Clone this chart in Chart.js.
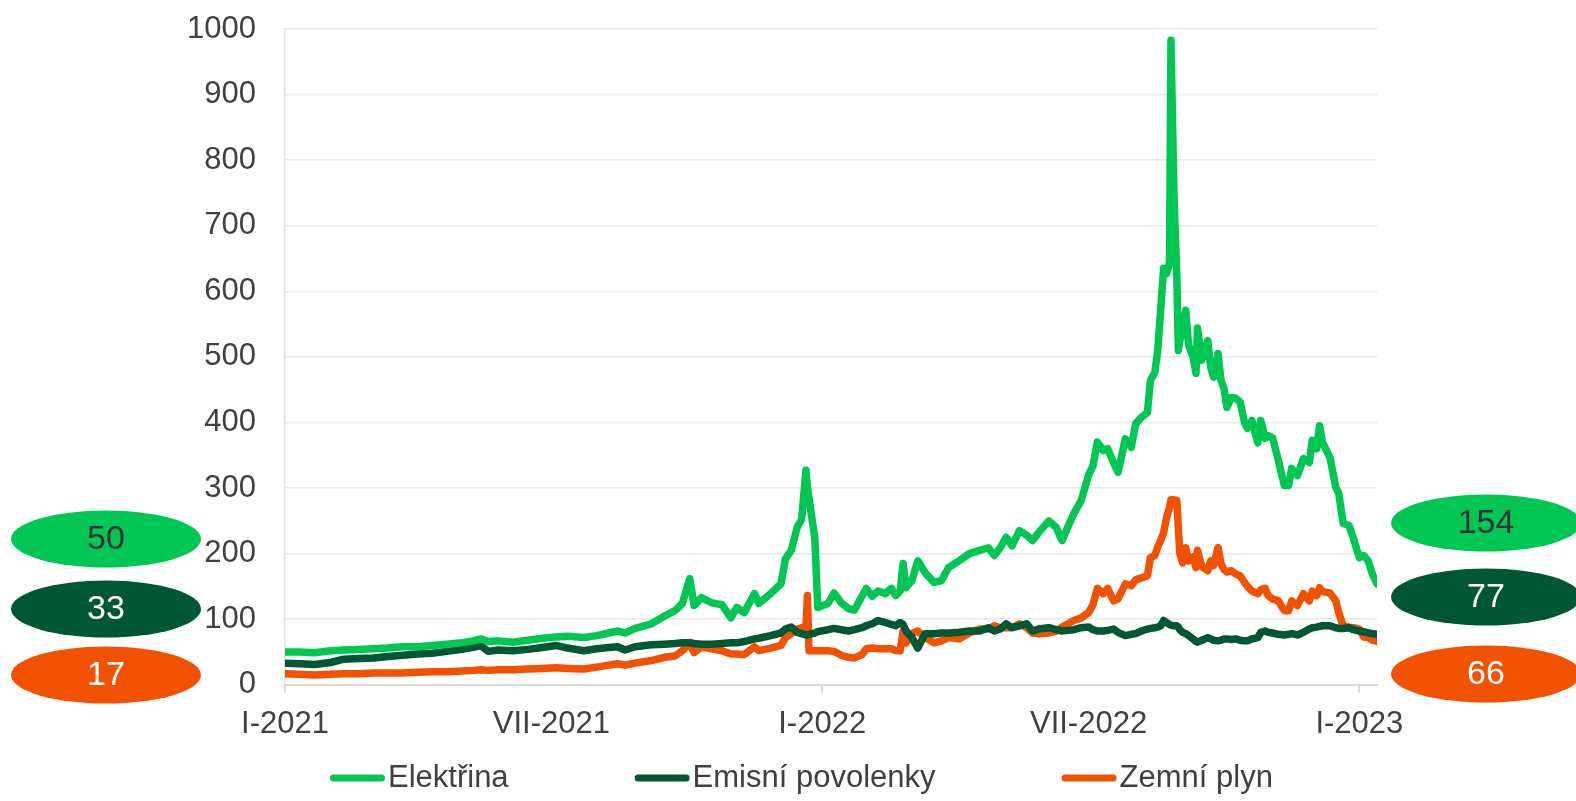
<!DOCTYPE html>
<html lang="cs">
<head>
<meta charset="utf-8">
<title>Ceny energií</title>
<script src="https://cdn.jsdelivr.net/npm/chart.js@4.4.1/dist/chart.umd.min.js"></script>
<style>
  html, body { margin: 0; padding: 0; background: #ffffff; }
  #wrap { width: 1576px; height: 801px; position: relative; }
</style>
</head>
<body>
<div id="wrap"><canvas id="chart"></canvas></div>
<script>
// Observation dates
const dates = [
  '2021-01-01','2021-01-11','2021-01-21','2021-02-01','2021-02-10','2021-02-20','2021-03-02','2021-03-12',
  '2021-03-22','2021-04-01','2021-04-11','2021-04-21','2021-05-01','2021-05-09','2021-05-14','2021-05-19',
  '2021-05-26','2021-06-05','2021-06-15','2021-06-25','2021-07-04','2021-07-12','2021-07-23','2021-08-01',
  '2021-08-09','2021-08-15','2021-08-20','2021-08-27','2021-09-07','2021-09-16','2021-09-23','2021-09-28',
  '2021-10-03','2021-10-06','2021-10-11','2021-10-18','2021-10-25','2021-10-31','2021-11-04','2021-11-09',
  '2021-11-16','2021-11-19','2021-11-27','2021-12-04','2021-12-07','2021-12-11','2021-12-15','2021-12-18',
  '2021-12-21','2021-12-22','2021-12-23','2021-12-27','2021-12-29',
  '2022-01-05','2022-01-09','2022-01-14','2022-01-19','2022-01-23','2022-01-28','2022-01-31','2022-02-04',
  '2022-02-08','2022-02-13','2022-02-17','2022-02-20','2022-02-23','2022-02-25','2022-02-27','2022-03-03',
  '2022-03-07','2022-03-12','2022-03-18','2022-03-23','2022-03-28','2022-04-04','2022-04-11','2022-04-18',
  '2022-04-24','2022-04-28','2022-05-02','2022-05-06','2022-05-10','2022-05-15','2022-05-20','2022-05-24',
  '2022-05-28','2022-06-04','2022-06-09','2022-06-13','2022-06-17','2022-06-21','2022-06-26','2022-07-01',
  '2022-07-04','2022-07-07','2022-07-11','2022-07-14','2022-07-18','2022-07-21','2022-07-26','2022-07-30',
  '2022-08-02','2022-08-06','2022-08-10','2022-08-12','2022-08-15','2022-08-17','2022-08-19','2022-08-21',
  '2022-08-23','2022-08-25','2022-08-26','2022-08-28','2022-08-30','2022-08-31','2022-09-01','2022-09-03',
  '2022-09-05','2022-09-07','2022-09-10','2022-09-12','2022-09-13','2022-09-16','2022-09-20','2022-09-22',
  '2022-09-24','2022-09-27','2022-09-29','2022-10-01','2022-10-03','2022-10-06','2022-10-09','2022-10-12',
  '2022-10-15','2022-10-17','2022-10-20','2022-10-24','2022-10-26','2022-10-29','2022-10-31','2022-11-03',
  '2022-11-07','2022-11-11','2022-11-14','2022-11-16','2022-11-20','2022-11-24','2022-11-28','2022-11-30',
  '2022-12-03','2022-12-05','2022-12-07','2022-12-12','2022-12-16','2022-12-18','2022-12-21','2022-12-25',
  '2022-12-28','2023-01-01','2023-01-04','2023-01-07','2023-01-10','2023-01-13'
];

// Elektřina
const elektrina = [
  50, 50, 49, 52, 53, 54, 55, 56,
  58, 58, 60, 62, 64, 67, 70, 66,
  67, 65, 68, 71, 73, 74, 72, 75,
  79, 82, 79, 86, 93, 105, 113, 124,
  162, 121, 133, 125, 122, 102, 118, 110,
  139, 124, 139, 154, 192, 205, 240, 252,
  327, 300, 285, 224, 118,
  124, 140, 125, 116, 114, 135, 147, 135,
  143, 139, 147, 136, 143, 185, 148, 159,
  189, 171, 156, 159, 179, 189, 200, 205,
  209, 197, 209, 225, 212, 235, 228, 220,
  232, 250, 240, 220, 241, 261, 281, 320,
  334, 370, 357, 360, 339, 324, 375, 362,
  398, 408, 415, 464, 476, 510, 571, 635,
  627, 643, 983, 750, 620, 510, 525, 540,
  571, 518, 500, 475, 544, 495, 525, 484,
  469, 505, 464, 452, 423, 438, 437, 431,
  400, 391, 403, 369, 403, 376, 380, 377,
  342, 304, 304, 330, 319, 345, 339, 373,
  360, 395, 369, 347, 301, 292, 246, 243,
  223, 194, 197, 189, 168, 154
];

// Emisní povolenky
const povolenky = [
  33, 32, 31, 34, 39, 40, 41, 43,
  45, 47, 48, 51, 54, 57, 60, 51,
  53, 52, 54, 57, 60, 56, 52, 55,
  57, 58, 53, 58, 61, 62, 63, 64,
  64, 63, 62, 62, 63, 64, 64, 66,
  70, 71, 75, 79, 85, 88, 80, 78,
  76, 76, 77, 79, 81,
  84, 86, 84, 82, 84, 87, 90, 93,
  98, 95, 92, 90, 95, 92, 82, 72,
  56, 78, 78, 79, 79, 80, 82, 82,
  87, 82, 85, 93, 87, 90, 93, 82,
  85, 87, 84, 82, 83, 84, 87, 88,
  84, 82, 82, 83, 85, 80, 75, 77,
  78, 82, 85, 86, 87, 88, 90, 98,
  95, 92, 91, 90, 90, 88, 84, 80,
  78, 75, 70, 66, 65, 68, 72, 70,
  68, 67, 68, 70, 70, 69, 70, 68,
  67, 67, 70, 72, 80, 82, 80, 79,
  77, 76, 77, 78, 76, 80, 85, 87,
  88, 89, 90, 90, 87, 86, 86, 87,
  84, 82, 81, 79, 78, 77
];

// Zemní plyn
const plyn = [
  17, 16, 15, 16, 17, 17, 18, 18,
  18, 19, 20, 20, 21, 22, 23, 22,
  23, 23, 24, 25, 26, 25, 24, 27,
  30, 32, 30, 33, 37, 42, 44, 52,
  64, 49, 58, 55, 52, 47, 47, 46,
  58, 52, 56, 60, 72, 78, 85, 87,
  87, 136, 52, 52, 52,
  52, 51, 45, 42, 41, 46, 55, 56,
  55, 55, 55, 52, 52, 82, 64, 78,
  82, 72, 64, 67, 72, 70, 79, 85,
  85, 90, 87, 87, 87, 93, 87, 79,
  78, 79, 82, 88, 93, 98, 102, 110,
  122, 147, 139, 147, 128, 131, 154, 151,
  160, 163, 166, 194, 197, 210, 220, 232,
  255, 270, 282, 282, 281, 240, 200, 186,
  209, 189, 195, 179, 205, 180, 174, 189,
  182, 209, 185, 176, 172, 174, 169, 166,
  156, 150, 143, 139, 145, 147, 136, 131,
  128, 113, 113, 128, 121, 139, 128, 143,
  136, 148, 142, 140, 128, 110, 90, 88,
  87, 85, 73, 72, 68, 66
];

// Axis labels
const tickDates = ['2021-01-01', '2021-07-01', '2022-01-01', '2022-07-01', '2023-01-01'];
const tickLabels = ['I-2021', 'VII-2021', 'I-2022', 'VII-2022', 'I-2023'];
const seriesNames = ['Elektřina', 'Emisní povolenky', 'Zemní plyn'];
const seriesColors = ['#00C753', '#005734', '#F25100'];

const FONT = '"Liberation Sans", Arial, Helvetica, sans-serif';
const TEXT = '#404040';
const ORIGIN = Date.parse('2021-01-01T00:00:00Z');
const dayOf = s => Math.round((Date.parse(s + 'T00:00:00Z') - ORIGIN) / 864e5);

const days = dates.map(dayOf);
const tickDays = tickDates.map(dayOf);
const toPoints = arr => arr.map((v, i) => ({ x: days[i], y: v }));

const seriesValues = [elektrina, povolenky, plyn];

// Value badges on both sides: first value on the left, last value on the right
const badgePlugin = {
  id: 'badges',
  afterDraw(chart) {
    const ctx = chart.ctx;
    const leftPos = { cx: 106, cy: [539, 609, 675] };
    const rightPos = { cx: 1486, cy: [523, 597, 674] };
    const textColors = ['#333333', '#ffffff', '#ffffff'];
    ctx.save();
    ctx.font = '34px ' + FONT;
    ctx.textAlign = 'center';
    ctx.textBaseline = 'middle';
    chart.data.datasets.forEach((ds, i) => {
      const vals = seriesValues[i];
      [[leftPos, vals[0]], [rightPos, vals[vals.length - 1]]].forEach(([p, v]) => {
        ctx.beginPath();
        ctx.ellipse(p.cx, p.cy[i], 95, 28.5, 0, 0, Math.PI * 2);
        ctx.fillStyle = ds.borderColor;
        ctx.fill();
        ctx.fillStyle = textColors[i];
        ctx.fillText(String(v), p.cx, p.cy[i] + 1);
      });
    });
    ctx.restore();
  }
};

// Legend row under the axis: short rounded line followed by the series name
const legendRow = {
  id: 'legendRow',
  afterDraw(chart) {
    const ctx = chart.ctx;
    const y = 778;
    const lineW = 55, gapText = 3, gapItem = 126;
    ctx.save();
    ctx.font = '31px ' + FONT;
    ctx.textBaseline = 'middle';
    let x = chart.chartArea.left + 45;
    chart.data.datasets.forEach(ds => {
      ctx.beginPath();
      ctx.lineWidth = 7;
      ctx.lineCap = 'round';
      ctx.strokeStyle = ds.borderColor;
      ctx.moveTo(x + 3.5, y);
      ctx.lineTo(x + lineW - 3.5, y);
      ctx.stroke();
      ctx.fillStyle = TEXT;
      ctx.textAlign = 'left';
      ctx.fillText(ds.label, x + lineW + gapText, y);
      x += lineW + gapText + ctx.measureText(ds.label).width + gapItem;
    });
    ctx.restore();
  }
};

const datasets = seriesNames.map((name, i) => ({
  label: name,
  data: toPoints(seriesValues[i]),
  borderColor: seriesColors[i],
  backgroundColor: seriesColors[i],
  borderWidth: 7.5,
  pointRadius: 0,
  pointHoverRadius: 0,
  tension: 0,
  borderJoinStyle: 'round',
  borderCapStyle: 'round',
  fill: false
}));

new Chart(document.getElementById('chart'), {
  type: 'line',
  data: { datasets },
  options: {
    responsive: true,
    maintainAspectRatio: false,
    animation: false,
    layout: { padding: { left: 0, right: 199, top: 29, bottom: 45 } },
    plugins: {
      legend: { display: false },
      tooltip: { enabled: false }
    },
    scales: {
      x: {
        type: 'linear',
        min: 0,
        max: days[days.length - 1],
        afterBuildTicks: scale => { scale.ticks = tickDays.map(v => ({ value: v })); },
        ticks: {
          autoSkip: false,
          maxRotation: 0,
          padding: 13,
          color: TEXT,
          font: { family: FONT, size: 31 },
          callback: (value, index) => tickLabels[index]
        },
        grid: {
          drawOnChartArea: false,
          drawTicks: true,
          tickLength: 8,
          lineWidth: 2,
          color: ctx => (ctx.tick && tickLabels[ctx.index] && tickLabels[ctx.index].startsWith('I-')) ? '#d9d9d9' : 'rgba(0,0,0,0)'
        },
        border: { display: true, color: '#d9d9d9', width: 2 }
      },
      y: {
        min: 0,
        max: 1000,
        afterFit: scale => { scale.width = 285; },
        ticks: {
          stepSize: 100,
          padding: 0,
          color: TEXT,
          font: { family: FONT, size: 31 },
          callback: value => String(value)
        },
        grid: {
          drawTicks: true,
          tickLength: 29,
          tickColor: 'rgba(0,0,0,0)',
          color: '#e9e9e9',
          lineWidth: 1.5
        },
        border: { display: true, color: '#e3e3e3', width: 1.5 }
      }
    }
  },
  plugins: [badgePlugin, legendRow]
});
</script>
</body>
</html>
